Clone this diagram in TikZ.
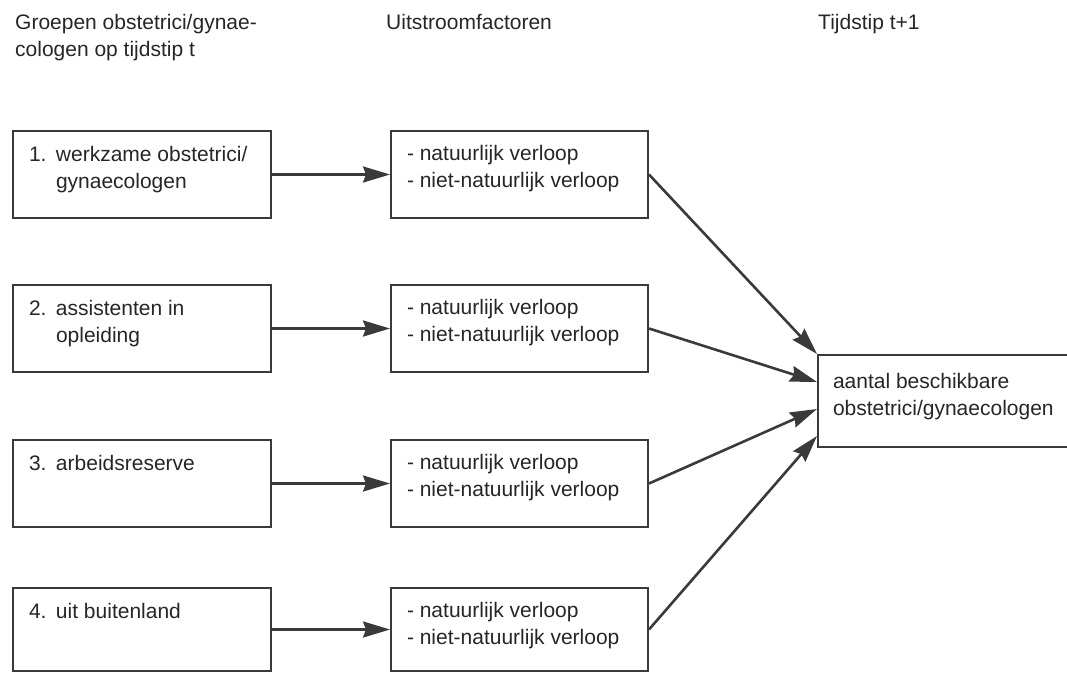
\documentclass[tikz,border=0pt]{standalone}
\usepackage{fontspec}
\setmainfont{Liberation Sans}
\usetikzlibrary{arrows.meta}
\definecolor{scanink}{RGB}{58,58,58}
\definecolor{scantext}{RGB}{38,38,38}

% box text: indent, first baseline, width, height, text
\newcommand{\boxfill}[5]{\parbox[t][#4][t]{#3}{\raggedright\rule{0pt}{#2}\hspace*{#1}\parbox[t]{\dimexpr#3-#1-1pt\relax}{\raggedright #5}}}

\begin{document}
\begin{tikzpicture}[x=1pt,y=-1pt,
  font=\fontsize{21}{27}\selectfont, text=scantext,
  groupbox/.style={draw=scanink,line width=2pt,inner sep=0pt,anchor=north west},
  flow/.style={draw=scanink,line width=2.6pt,-{Stealth[length=27pt,width=16pt,inset=3pt]}},
  heading/.style={inner sep=0pt,anchor=north west,align=left}]

\path[use as bounding box] (0,0) rectangle (1067,672);

% column headings
\node[heading] (hgroups) at (15,14) {Groepen obstetrici/gynae-\\cologen op tijdstip t};
\node[heading] (houtflow) at (386,14) {Uitstroomfactoren};
\node[heading] (htime) at (818,14) {Tijdstip t+1};

% groups at time t
\node[groupbox] (g1) at (12,130) {\boxfill{16pt}{30pt}{258pt}{87pt}{\makebox[27pt][l]{1.}werkzame obstetrici/\\\hspace*{27pt}gynaecologen}};
\node[groupbox] (g2) at (12,284) {\boxfill{16pt}{30pt}{258pt}{87pt}{\makebox[27pt][l]{2.}assistenten in\\\hspace*{27pt}opleiding}};
\node[groupbox] (g3) at (12,439) {\boxfill{16pt}{30pt}{258pt}{87pt}{\makebox[27pt][l]{3.}arbeidsreserve}};
\node[groupbox] (g4) at (12,587) {\boxfill{16pt}{30pt}{258pt}{83pt}{\makebox[27pt][l]{4.}uit buitenland}};

% outflow factors
\foreach \i/\y/\h in {1/130/87,2/284/87,3/439/87,4/587/83} {
    \node[groupbox] (m\i) at (390,\y) {\boxfill{16pt}{29pt}{257pt}{\h pt}{- natuurlijk verloop\\- niet-natuurlijk verloop}};
    \draw[flow] (g\i.east) -- (m\i.west);
}

% time t+1
\node[groupbox] (total) at (817,354) {\boxfill{15pt}{33pt}{262pt}{92pt}{aantal beschikbare\\obstetrici/gynaecologen}};

\draw[flow] (m1.east) -- (total.north west);
\foreach \i/\d in {2/28,3/55,4/82} {
    \draw[flow] (m\i.east) -- ([yshift=-\d pt]total.north west);
}
\end{tikzpicture}
\end{document}
